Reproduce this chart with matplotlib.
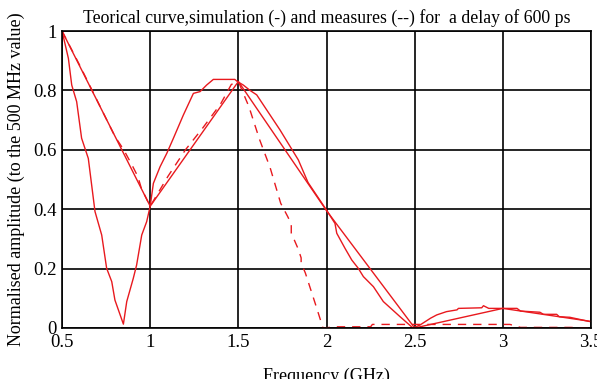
import numpy as np
import matplotlib.pyplot as plt

plt.rcParams['font.family'] = ['Liberation Serif', 'DejaVu Serif']

# Theoretical curve (piecewise linear)
theo_f = [0.5, 1.0, 1.5, 2.0, 2.5, 3.0, 3.5]
theo_a = [1.0, 0.41, 0.83, 0.395, 0.0, 0.066, 0.022]

# Simulation (solid)
sim_f = [0.5, 0.536, 0.555, 0.583, 0.611, 0.649, 0.687, 0.725, 0.753, 0.782, 0.80,
         0.848, 0.867, 0.904, 0.923, 0.952, 0.98, 1.0, 1.018, 1.056, 1.094, 1.131,
         1.188, 1.245, 1.283, 1.32, 1.358, 1.48, 1.494, 1.528, 1.566, 1.604, 1.68,
         1.736, 1.84, 1.895, 2.0, 2.048, 2.058, 2.105, 2.143, 2.18, 2.209, 2.266,
         2.322, 2.417, 2.49, 2.53, 2.59, 2.625, 2.68, 2.74, 2.748, 2.88, 2.89, 2.92,
         3.08, 3.1, 3.21, 3.23, 3.305, 3.32, 3.38, 3.49]
sim_a = [1.0, 0.908, 0.818, 0.762, 0.639, 0.571, 0.392, 0.313, 0.201, 0.156, 0.094,
         0.013, 0.089, 0.167, 0.212, 0.313, 0.358, 0.41, 0.487, 0.543, 0.588, 0.638,
         0.717, 0.79, 0.796, 0.818, 0.837, 0.837, 0.83, 0.818, 0.80, 0.785, 0.717,
         0.667, 0.566, 0.49, 0.397, 0.352, 0.319, 0.268, 0.229, 0.201, 0.173, 0.139,
         0.089, 0.038, 0.0, 0.01, 0.033, 0.044, 0.055, 0.061, 0.066, 0.068, 0.075, 0.066,
         0.066, 0.057, 0.053, 0.046, 0.046, 0.038, 0.036, 0.022]

# Measures (dashed)
meas_f = [0.5, 0.6, 0.7, 0.8, 0.85, 0.9, 0.93, 0.95, 1.0, 1.1, 1.2, 1.3, 1.4, 1.46,
          1.5, 1.56, 1.62, 1.68, 1.74, 1.78, 1.80, 1.80, 1.84, 1.856, 1.856, 1.88,
          1.94, 1.98, 2.06, 2.25, 2.26, 3.04, 3.1, 3.38, 3.5]
meas_a = [1.0, 0.885, 0.765, 0.645, 0.60, 0.545, 0.51, 0.47, 0.41, 0.51, 0.60, 0.675,
          0.755, 0.82, 0.83, 0.745, 0.635, 0.54, 0.42, 0.375, 0.35, 0.32, 0.265, 0.236,
          0.219, 0.185, 0.075, 0.0, 0.004, 0.004, 0.012, 0.012, 0.002, 0.002, 0.0]

fig = plt.figure(figsize=(5.97, 3.79), dpi=100)
ax = fig.add_axes([0.1039, 0.1346, 0.8861, 0.7836])

ax.plot(theo_f, theo_a, color='#e8191e', lw=1.0)
ax.plot(sim_f, sim_a, color='#e8191e', lw=1.0)
ax.plot(meas_f, meas_a, color='#e8191e', lw=1.0, dashes=(6, 5))

ax.set_xlim(0.5, 3.5)
ax.set_ylim(0, 1)
ax.set_xticks([0.5, 1, 1.5, 2, 2.5, 3, 3.5])
ax.set_xticklabels(['0.5', '1', '1.5', '2', '2.5', '3', '3.5'])
ax.set_yticks([0, 0.2, 0.4, 0.6, 0.8, 1])
ax.set_yticklabels(['0', '0.2', '0.4', '0.6', '0.8', '1'])
ax.tick_params(length=0, labelsize=13.5, pad=4)
ax.grid(True, color='black', lw=1.2)
for s in ax.spines.values():
    s.set_linewidth(1.2)

ax.set_title('Teorical curve,simulation (-) and measures (--) for  a delay of 600 ps',
             fontsize=12.8, pad=6)
ax.set_xlabel('Frequency (GHz)', fontsize=13, labelpad=12)
ax.set_ylabel('Normalised amplitude (to the 500 MHz value)', fontsize=13, labelpad=6)

fig.savefig('out.png', dpi=100)
